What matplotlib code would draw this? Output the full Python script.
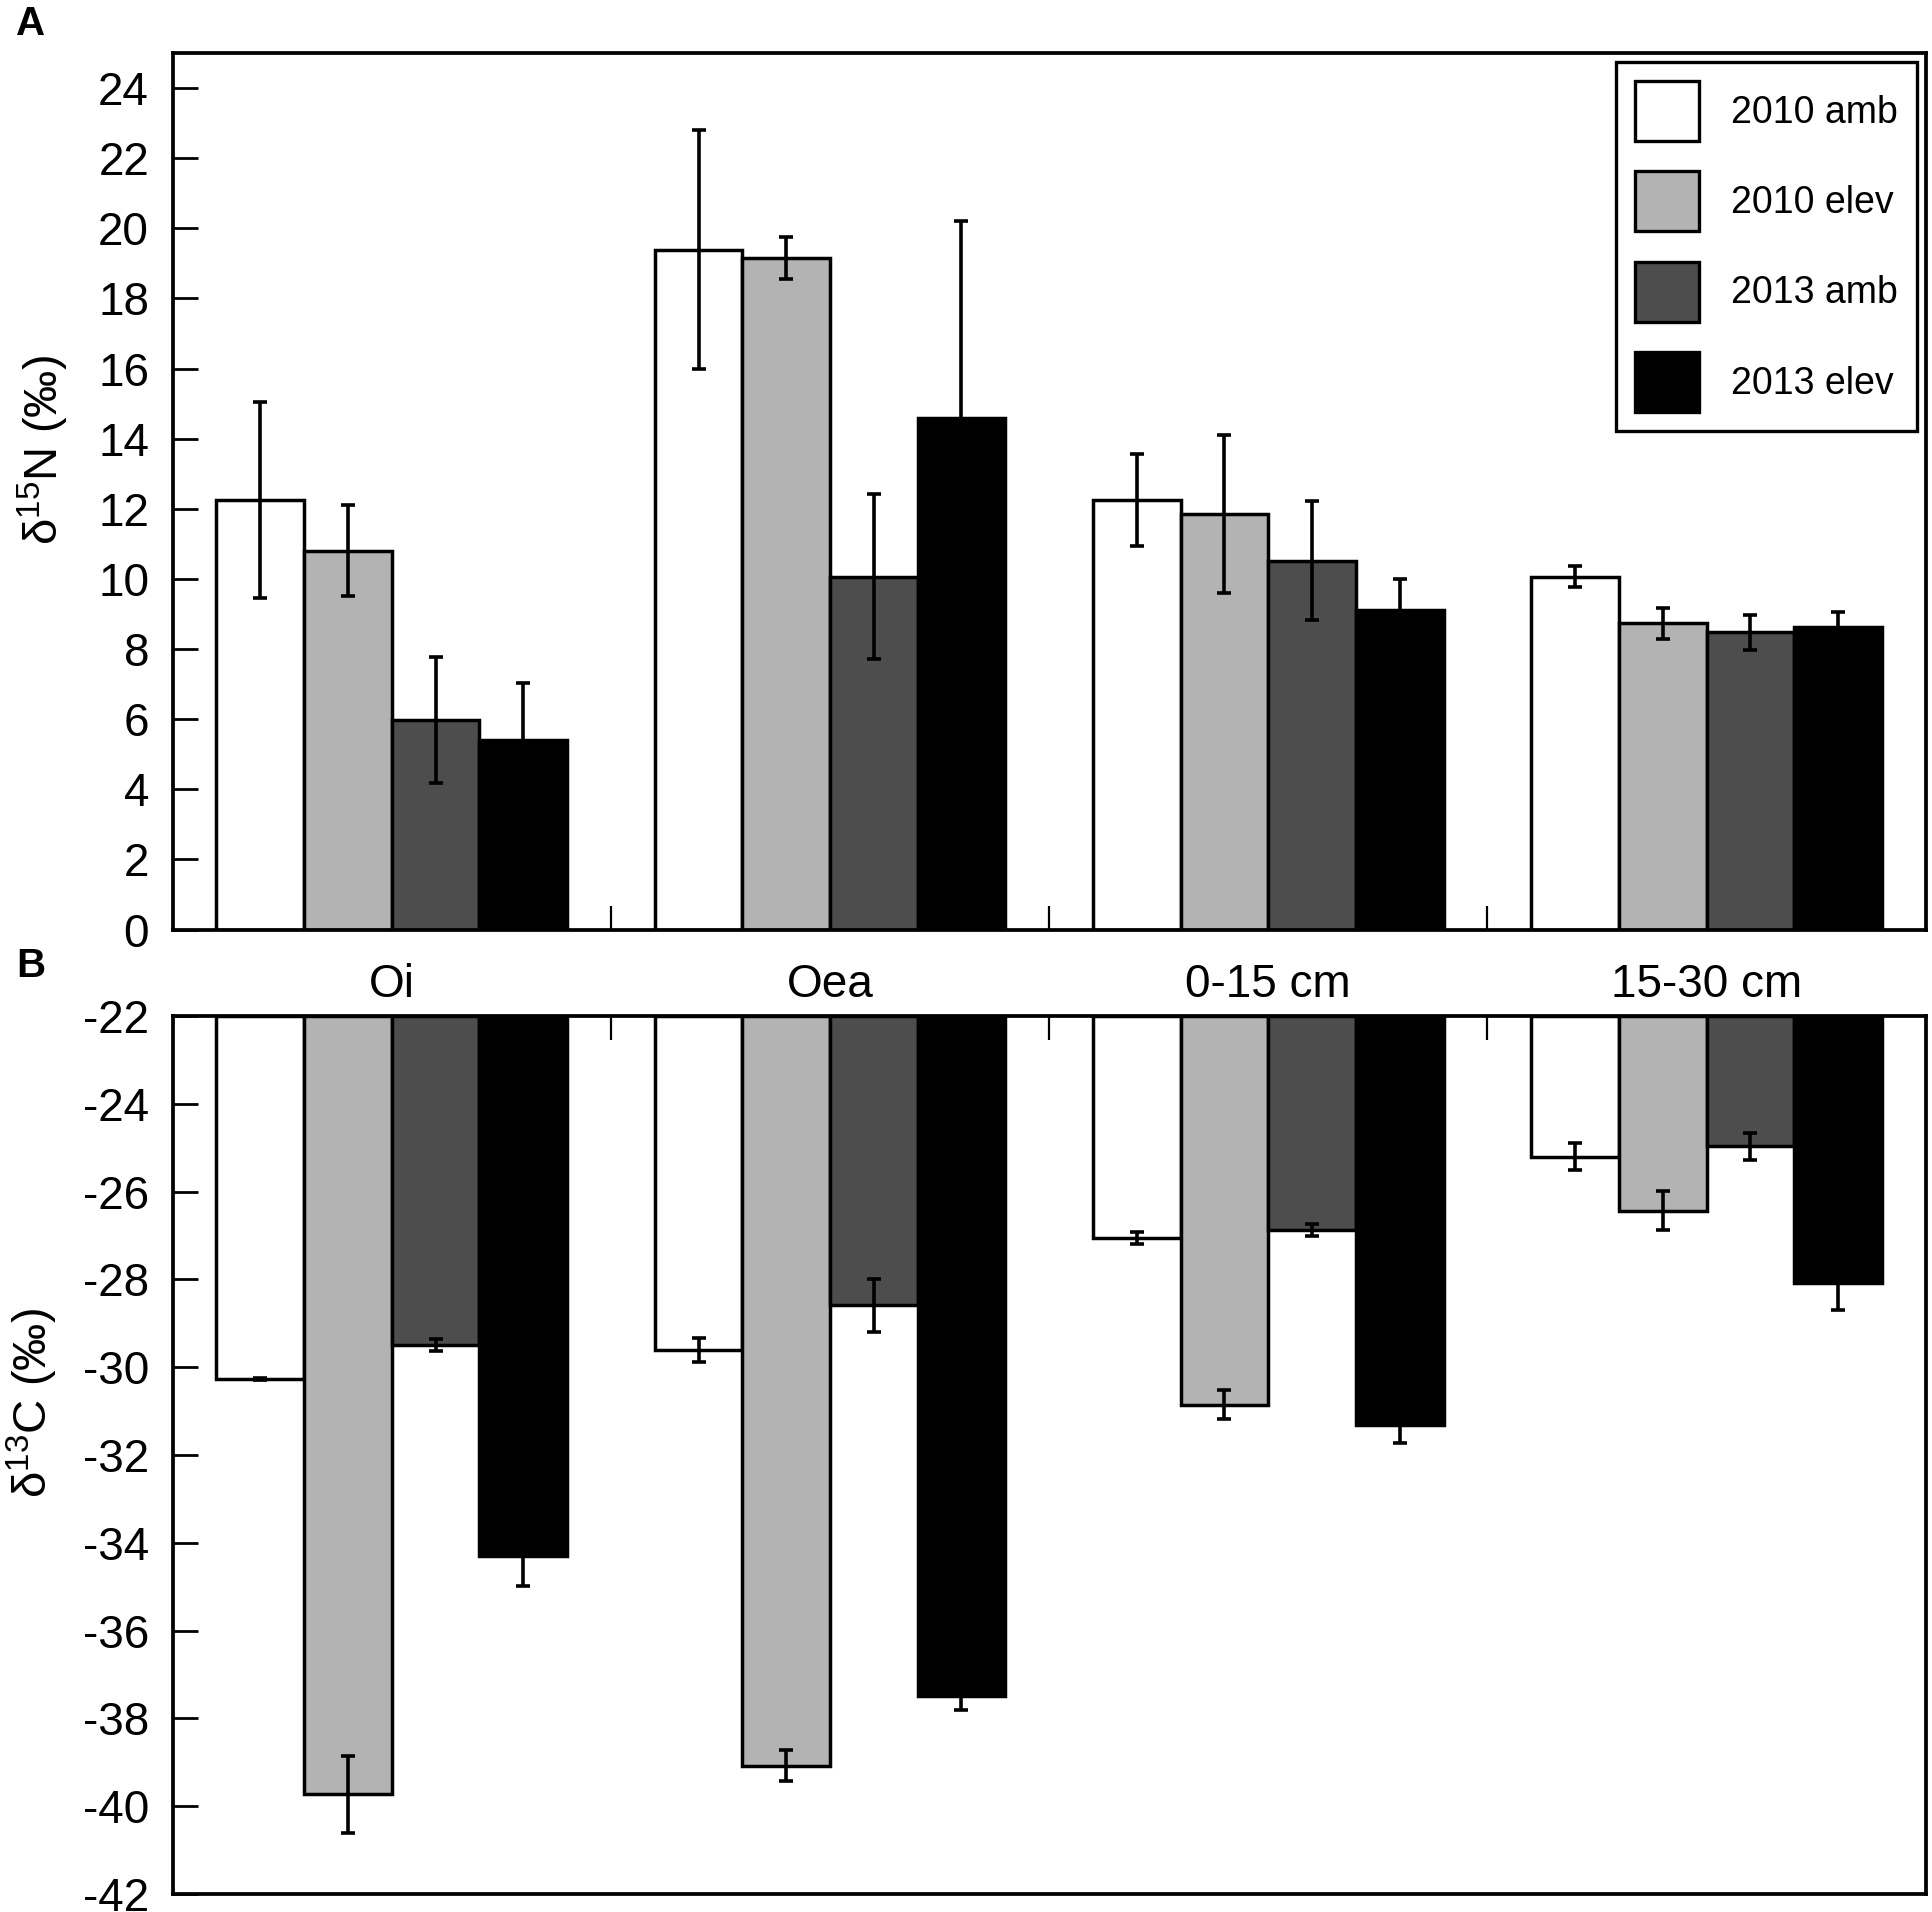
import matplotlib
matplotlib.use("Agg")
import matplotlib.pyplot as plt
import numpy as np

categories = ["Oi", "Oea", "0-15 cm", "15-30 cm"]
series = ["2010 amb", "2010 elev", "2013 amb", "2013 elev"]
colors = ["#ffffff", "#b3b3b3", "#4d4d4d", "#000000"]

n15_2010_amb = [12.25, 19.39, 12.25, 10.06]
n15_2010_elev = [10.80, 19.14, 11.86, 8.73]
n15_2013_amb = [5.98, 10.06, 10.52, 8.48]
n15_2013_elev = [5.42, 14.60, 9.11, 8.62]
n15_err_2010_amb = [2.8, 3.4, 1.3, 0.3]
n15_err_2010_elev = [1.3, 0.6, 2.25, 0.45]
n15_err_2013_amb = [1.8, 2.35, 1.7, 0.5]
n15_err_2013_elev = [1.6, 5.6, 0.9, 0.45]

c13_2010_amb = [-30.27, -29.60, -27.05, -25.20]
c13_2010_elev = [-39.73, -39.08, -30.86, -26.43]
c13_2013_amb = [-29.49, -28.59, -26.88, -24.97]
c13_2013_elev = [-34.31, -37.48, -31.31, -28.09]
c13_err_2010_amb = [0.02, 0.27, 0.14, 0.30]
c13_err_2010_elev = [0.87, 0.35, 0.33, 0.45]
c13_err_2013_amb = [0.14, 0.60, 0.14, 0.30]
c13_err_2013_elev = [0.68, 0.33, 0.42, 0.60]

n15_vals = [n15_2010_amb, n15_2010_elev, n15_2013_amb, n15_2013_elev]
n15_errs = [n15_err_2010_amb, n15_err_2010_elev, n15_err_2013_amb, n15_err_2013_elev]
c13_vals = [c13_2010_amb, c13_2010_elev, c13_2013_amb, c13_2013_elev]
c13_errs = [c13_err_2010_amb, c13_err_2010_elev, c13_err_2013_amb, c13_err_2013_elev]

n15_ticks = list(range(0, 25, 2))
c13_ticks = list(range(-42, -21, 2))

plt.rcParams['font.family'] = ['Liberation Sans', 'DejaVu Sans']
plt.rcParams['axes.unicode_minus'] = False
plt.rcParams['mathtext.fontset'] = 'custom'
plt.rcParams['mathtext.rm'] = 'Liberation Sans'
plt.rcParams['mathtext.it'] = 'Liberation Sans:italic'
plt.rcParams['mathtext.bf'] = 'Liberation Sans:bold'

fig = plt.figure(figsize=(19.33, 19.12), dpi=100)
axA = fig.add_axes([0.0893, 0.5138, 0.9069, 0.4585])
axB = fig.add_axes([0.0893, 0.0094, 0.9069, 0.4592])

x = np.arange(len(categories))
w = 0.2
offsets = [-1.5, -0.5, 0.5, 1.5]
LW = 2.5

for i in range(4):
    axA.bar(x + offsets[i] * w, n15_vals[i], w, color=colors[i], edgecolor='black',
            linewidth=LW, label=series[i], zorder=2)
    axA.errorbar(x + offsets[i] * w, n15_vals[i], yerr=n15_errs[i], fmt='none',
                 ecolor='black', elinewidth=2.6, capsize=5, capthick=2.6, zorder=3)
    base = -22
    axB.bar(x + offsets[i] * w, np.array(c13_vals[i]) - base, w, bottom=base,
            color=colors[i], edgecolor='black', linewidth=LW, zorder=2)
    axB.errorbar(x + offsets[i] * w, c13_vals[i], yerr=c13_errs[i], fmt='none',
                 ecolor='black', elinewidth=2.6, capsize=5, capthick=2.6, zorder=3)

for ax in (axA, axB):
    ax.set_xlim(-0.5, 3.5)
    for s in ax.spines.values():
        s.set_linewidth(2.7)
    ax.set_xticks([0.5, 1.5, 2.5])
    ax.set_xticklabels([])
    ax.tick_params(axis='x', direction='in', length=17, width=1.6)
    ax.tick_params(axis='y', direction='in', length=18, width=2, labelsize=33, pad=17)

axA.set_ylim(0, 25)
axA.set_yticks(n15_ticks)
axA.tick_params(axis='x', top=False, bottom=True)
axB.set_ylim(-42, -22)
axB.set_yticks(c13_ticks)
axB.tick_params(axis='x', top=True, bottom=False)

axA.set_ylabel(r'δ$^{\mathrm{15}}$N (‰)', fontsize=34)
axB.set_ylabel(r'δ$^{\mathrm{13}}$C (‰)', fontsize=34)
axA.yaxis.set_label_coords(-0.058, 0.547)
axB.yaxis.set_label_coords(-0.064, 0.559)

for i, c in enumerate(categories):
    axB.text(x[i], 1.0217, c, transform=axB.get_xaxis_transform(), ha='center',
             va='baseline', fontsize=33)

fig.text(0.016, 0.9874, 'A', fontsize=29, fontweight='bold', ha='center', va='center')
fig.text(0.016, 0.4948, 'B', fontsize=29, fontweight='bold', ha='center', va='center')

leg = axA.legend(loc='upper right', bbox_to_anchor=(0.995, 0.9897), fontsize=27,
                 handlelength=1.73, handleheight=2.085, labelspacing=0.81,
                 handletextpad=0.85, borderpad=0.5, borderaxespad=0,
                 fancybox=False, framealpha=1, edgecolor='black')
leg.get_frame().set_linewidth(2.4)
for p in leg.get_patches():
    p.set_linewidth(2.4)

fig.savefig('out.png', dpi=100)
